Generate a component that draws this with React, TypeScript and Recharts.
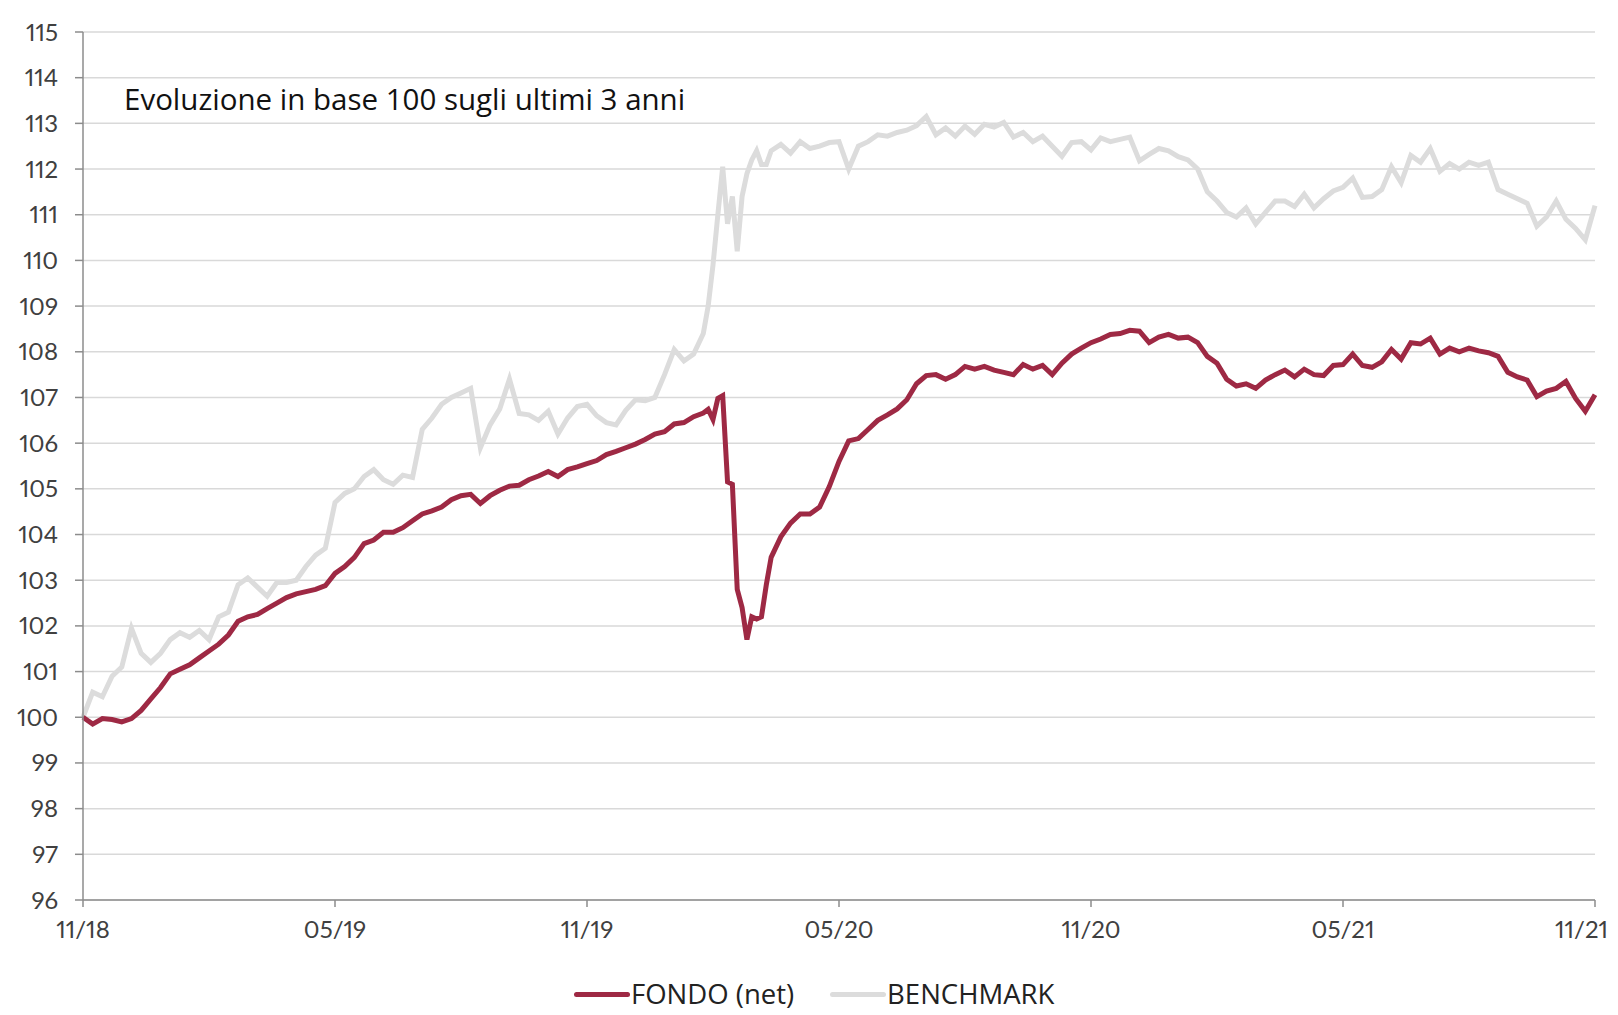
import { LineChart, Line, XAxis, YAxis, CartesianGrid } from "recharts";

// x = weeks since 11/18 (extra half-week points around the March 2020 crash)
const crashWeeks = [64, 64.5, 65, 65.5, 66, 66.5, 67, 67.5, 68, 68.5, 69, 69.5, 70, 70.5];
const weeks = [
  ...Array.from({ length: 64 }, (_, i) => i),
  ...crashWeeks,
  ...Array.from({ length: 86 }, (_, i) => 71 + i),
];

const fondo = [
  100.0, 99.85, 99.97, 99.95, 99.9, 99.97, 100.15, 100.4, 100.65, 100.95,
  101.05, 101.15, 101.3, 101.45, 101.6, 101.8, 102.1, 102.2, 102.25, 102.38,
  102.5, 102.62, 102.7, 102.75, 102.8, 102.88, 103.15, 103.3, 103.5, 103.8,
  103.88, 104.05, 104.05, 104.15, 104.3, 104.45, 104.52, 104.6, 104.76, 104.85,
  104.88, 104.68, 104.85, 104.97, 105.06, 105.08, 105.2, 105.28, 105.38, 105.27,
  105.42, 105.48, 105.55, 105.62, 105.75, 105.82, 105.9, 105.98, 106.08, 106.2,
  106.25, 106.42, 106.45, 106.58,
  // crash
  106.66, 106.74, 106.52, 106.98, 107.04, 105.15, 105.1, 102.8, 102.4, 101.7, 102.2, 102.15, 102.2, 102.9,
  103.5, 103.95, 104.25, 104.45, 104.45, 104.6, 105.05, 105.6, 106.05, 106.1,
  106.3, 106.5, 106.62, 106.75, 106.95, 107.3, 107.48, 107.5, 107.4, 107.5,
  107.68, 107.62, 107.68, 107.6, 107.55, 107.5, 107.72, 107.62, 107.7, 107.5,
  107.75, 107.95, 108.08, 108.2, 108.28, 108.38, 108.4, 108.47, 108.45, 108.2,
  108.32, 108.38, 108.3, 108.32, 108.2, 107.9, 107.75, 107.4, 107.25, 107.3,
  107.2, 107.38, 107.5, 107.6, 107.45, 107.62, 107.5, 107.48, 107.7, 107.72,
  107.95, 107.7, 107.66, 107.78, 108.05, 107.84, 108.2, 108.17, 108.3, 107.95,
  108.08, 108.0, 108.08, 108.02, 107.98, 107.9, 107.55, 107.45, 107.38, 107.02,
  107.14, 107.2, 107.35, 106.98, 106.7, 107.06,
];

const benchmark = [
  100.0, 100.55, 100.45, 100.9, 101.1, 101.95, 101.4, 101.2, 101.4, 101.7,
  101.85, 101.75, 101.9, 101.7, 102.2, 102.3, 102.9, 103.05, 102.85, 102.65,
  102.95, 102.95, 103.0, 103.3, 103.55, 103.7, 104.7, 104.9, 105.0, 105.27,
  105.42, 105.2, 105.1, 105.3, 105.25, 106.3, 106.55, 106.85, 107.0, 107.1,
  107.2, 105.9, 106.4, 106.75, 107.4, 106.65, 106.62, 106.5, 106.7, 106.2,
  106.55, 106.8, 106.85, 106.6, 106.45, 106.4, 106.72, 106.95, 106.93, 107.0,
  107.5, 108.05, 107.8, 107.95,
  // crash
  108.4, 109.0, 109.9, 111.0, 112.05, 110.8, 111.4, 110.2, 111.4, 111.9, 112.2, 112.4, 112.1, 112.1,
  112.4, 112.54, 112.35, 112.6, 112.45, 112.5, 112.58, 112.6, 112.0, 112.5,
  112.6, 112.75, 112.72, 112.8, 112.85, 112.95, 113.15, 112.75, 112.9, 112.72,
  112.94, 112.76, 112.98, 112.92, 113.02, 112.7, 112.8, 112.6, 112.72, 112.5,
  112.28, 112.58, 112.6, 112.42, 112.68, 112.6, 112.65, 112.7, 112.18, 112.32,
  112.45, 112.4, 112.27, 112.2, 112.0, 111.5, 111.3, 111.05, 110.95, 111.15,
  110.8, 111.05, 111.3, 111.3, 111.18, 111.45, 111.15, 111.35, 111.52, 111.6,
  111.8, 111.38, 111.4, 111.55, 112.05, 111.7, 112.3, 112.15, 112.45, 111.95,
  112.12, 112.0, 112.15, 112.08, 112.15, 111.55, 111.45, 111.35, 111.25, 110.75,
  110.95, 111.3, 110.9, 110.7, 110.45, 111.2,
];

const xTickWeeks = [0, 26, 52, 78, 104, 130, 156];
const xTickLabels = ["11/18", "05/19", "11/19", "05/20", "11/20", "05/21", "11/21"];
const yTicks = [96, 97, 98, 99, 100, 101, 102, 103, 104, 105, 106, 107, 108, 109, 110, 111, 112, 113, 114, 115];

const FONDO_COLOR = "#9e2944";
const BENCH_COLOR = "#dcdcdc";
const TICK_FONT = "Lato, sans-serif";
const TEXT_FONT = "'Open Sans', Lato, sans-serif";
const TICK_FILL = "#404040";

const data = weeks.map((w, i) => ({ w, fondo: fondo[i], benchmark: benchmark[i] }));

// last label sits at the right edge, so anchor it at its end to keep it inside
function XTick(props: any) {
  const { x, y, payload } = props;
  const last = payload.value === xTickWeeks[xTickWeeks.length - 1];
  return (
    <text
      x={last ? x + 13 : x}
      y={y}
      dy="0.71em"
      textAnchor={last ? "end" : "middle"}
      fontFamily={TICK_FONT}
      fontSize={24}
      fill={TICK_FILL}
      style={{ fontVariantNumeric: "proportional-nums" }}
    >
      {xTickLabels[xTickWeeks.indexOf(payload.value)] ?? ""}
    </text>
  );
}

function LegendItem({ color, label, gap }: { color: string; label: string; gap: number }) {
  return (
    <span style={{ display: "inline-flex", alignItems: "center", marginRight: gap }}>
      <span style={{ width: 56, height: 5, borderRadius: 3, background: color, marginRight: 1 }} />
      <span>{label}</span>
    </span>
  );
}

export default function App() {
  const tickStyle = {
    fontFamily: TICK_FONT,
    fontSize: 24,
    fill: TICK_FILL,
    style: { fontVariantNumeric: "proportional-nums" as const },
  };
  return (
    <div style={{ position: "relative", width: 1602, height: 1007, fontFamily: TEXT_FONT }}>
      <LineChart width={1602} height={960} data={data} margin={{ top: 24, right: 15, left: 0, bottom: 0 }}>
        <CartesianGrid vertical={false} stroke="#d9d9d9" strokeWidth={1.5} />
        <XAxis
          dataKey="w"
          type="number"
          domain={[0, 156]}
          ticks={xTickWeeks}
          height={68}
          tickSize={7}
          tickMargin={14}
          stroke="#8c8c8c"
          strokeWidth={1.5}
          tick={<XTick />}
          interval={0}
        />
        <YAxis
          domain={[96, 115]}
          ticks={yTicks}
          width={75}
          tickSize={8}
          tickMargin={17}
          stroke="#8c8c8c"
          strokeWidth={1.5}
          tick={tickStyle}
          interval={0}
        />
        <Line
          type="linear"
          dataKey="benchmark"
          stroke={BENCH_COLOR}
          strokeWidth={5}
          dot={false}
          isAnimationActive={false}
        />
        <Line
          type="linear"
          dataKey="fondo"
          stroke={FONDO_COLOR}
          strokeWidth={5}
          dot={false}
          isAnimationActive={false}
        />
      </LineChart>
      <div style={{ position: "absolute", left: 116, top: 75, fontSize: 29.5, lineHeight: "32px", color: "#111" }}>
        Evoluzione in base 100 sugli ultimi 3 anni
      </div>
      <div
        style={{
          position: "absolute",
          left: 566,
          top: 973,
          fontSize: 27.5,
          lineHeight: "26px",
          color: "#222",
          display: "flex",
          whiteSpace: "nowrap",
        }}
      >
        <LegendItem color={FONDO_COLOR} label="FONDO (net)" gap={36} />
        <LegendItem color={BENCH_COLOR} label="BENCHMARK" gap={0} />
      </div>
    </div>
  );
}
